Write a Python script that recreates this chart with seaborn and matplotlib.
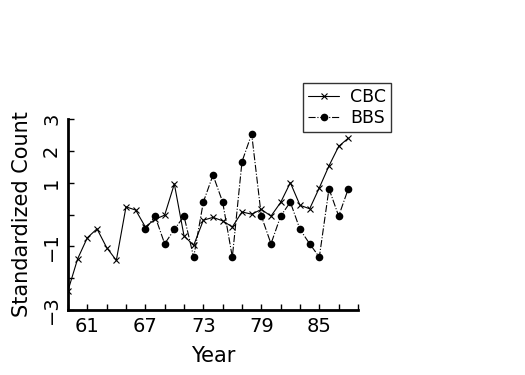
import numpy as np
import pandas as pd
import matplotlib
matplotlib.use('Agg')
import matplotlib.pyplot as plt
from matplotlib.legend_handler import HandlerLine2D
import seaborn as sns

# datos
cbc_years = list(range(59, 89))
cbc_vals = [-2.39, -1.39, -0.73, -0.45, -1.04, -1.44, 0.24, 0.14, -0.39, -0.15,
            -0.02, 0.96, -0.67, -0.97, -0.18, -0.09, -0.20, -0.39, 0.08, 0.01,
            0.16, -0.05, 0.38, 1.00, 0.29, 0.18, 0.84, 1.53, 2.14, 2.40]
bbs_years = list(range(67, 89))
bbs_vals = [-0.47, -0.05, -0.92, -0.47, -0.05, -1.34, 0.39, 1.24, 0.39, -1.34,
            1.66, 2.53, -0.05, -0.92, -0.05, 0.39, -0.47, -0.92, -1.34, 0.81,
            -0.05, 0.81]

x_ticks = list(range(59, 90, 2))
x_tick_labels = ['' if t not in (61, 67, 73, 79, 85) else str(t) for t in x_ticks]
y_ticks = [-3, -2, -1, 0, 1, 2, 3]
y_tick_labels = ['\u22123', '', '\u22121', '', '1', '2', '3']

cbc = pd.DataFrame({'Year': cbc_years, 'Count': cbc_vals})
bbs = pd.DataFrame({'Year': bbs_years, 'Count': bbs_vals})

sns.set_style('ticks')
plt.rcParams['font.family'] = ['DejaVu Sans']
plt.rcParams['text.color'] = 'black'
plt.rcParams['axes.labelcolor'] = 'black'
plt.rcParams['xtick.color'] = 'black'
plt.rcParams['ytick.color'] = 'black'


# marcador a la izquierda de la linea en la leyenda
class HandlerLeft(HandlerLine2D):
    def get_xdata(self, legend, xdescent, ydescent, width, height, fontsize):
        return [-xdescent, -xdescent + width], [-xdescent]


fig = plt.figure(figsize=(5.25, 3.75), dpi=100)
ax = fig.add_axes([68/525, 65/375, 290/525, 191/375])

sns.lineplot(x='Year', y='Count', data=cbc, ax=ax, color='black', lw=0.8,
             marker='x', markersize=4, markeredgewidth=0.8,
             markeredgecolor='black', label='CBC')
sns.lineplot(x='Year', y='Count', data=bbs, ax=ax, color='black', lw=0.8,
             linestyle='-.', marker='o', markersize=5.5, markeredgewidth=0,
             markeredgecolor='black', label='BBS')

ax.set_xlim(59, 89)
ax.set_ylim(-3, 3)
ax.set_xticks(x_ticks)
ax.set_xticklabels(x_tick_labels, fontsize=14)
ax.set_yticks(y_ticks)
ax.set_yticklabels(y_tick_labels, fontsize=14, rotation=90, va='center')
ax.tick_params(direction='in', length=4, width=1, pad=5)
ax.set_xlabel('Year', fontsize=15, labelpad=7)
ax.set_ylabel('Standardized Count', fontsize=15, labelpad=7)

sns.despine(ax=ax)
for s in ['left', 'bottom']:
    ax.spines[s].set_linewidth(2)
    ax.spines[s].set_color('black')

handles, labels = ax.get_legend_handles_labels()
leg = ax.legend(handles, labels, loc='upper left',
                bbox_to_anchor=(303/525, 1 - 83/375),
                bbox_transform=fig.transFigure, borderaxespad=0,
                fontsize=12.5, frameon=True, fancybox=False, edgecolor='black',
                handlelength=1.8, handletextpad=0.6, numpoints=1,
                borderpad=0.3, labelspacing=0.15,
                handler_map={h: HandlerLeft() for h in handles})
leg.get_frame().set_linewidth(1)

fig.savefig('out.png', dpi=100)
